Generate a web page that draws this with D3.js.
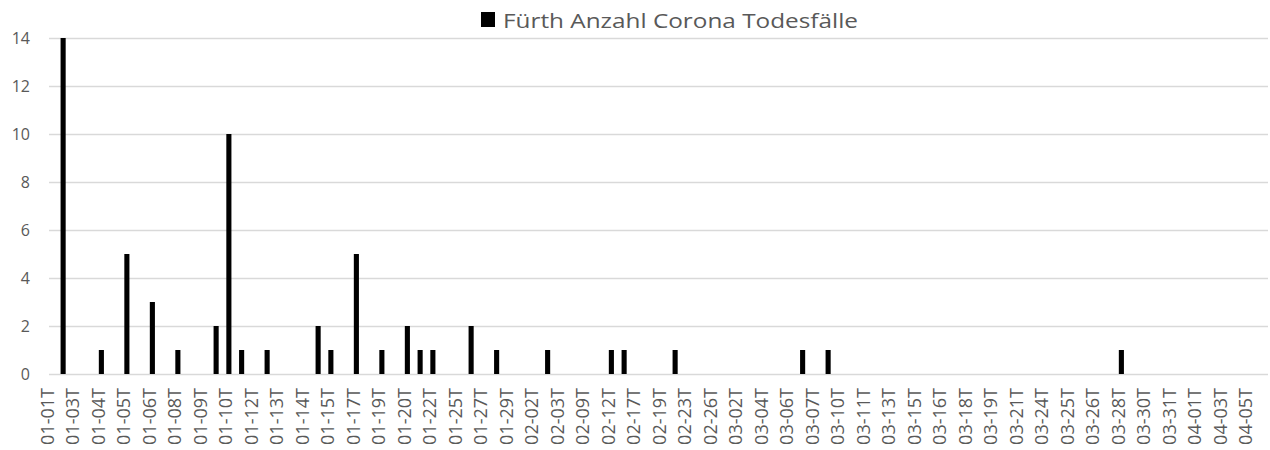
<!DOCTYPE html>
<html>
<head>
<meta charset="utf-8">
<script src="https://cdn.jsdelivr.net/npm/d3@7"></script>
<style>
  body { margin: 0; background: #fff; }
  svg text { font-family: "Open Sans", sans-serif; fill: #595959; }
</style>
</head>
<body>
<svg id="chart"></svg>
<script>
// tick labels, one for every second slot on the category axis
const tickLabels = [
    "01-01T", "01-03T", "01-04T", "01-05T", "01-06T", "01-08T", "01-09T", "01-10T",
    "01-12T", "01-13T", "01-14T", "01-15T", "01-17T", "01-19T", "01-20T", "01-22T",
    "01-25T", "01-27T", "01-29T", "02-02T", "02-03T", "02-09T", "02-12T", "02-17T",
    "02-19T", "02-23T", "02-26T", "03-02T", "03-04T", "03-06T", "03-07T", "03-10T",
    "03-11T", "03-13T", "03-15T", "03-16T", "03-18T", "03-19T", "03-21T", "03-24T",
    "03-25T", "03-26T", "03-28T", "03-30T", "03-31T", "04-01T", "04-03T", "04-05T"
];

// category slots that have deaths, and the number of deaths
const deathSlots  = [1, 4, 6, 8, 10, 13, 14, 15, 17, 21, 22, 24, 26, 28, 29, 30, 33, 35, 39, 44, 45, 49, 59, 61, 84];
const deathValues = [14, 1, 5, 3, 1, 2, 10, 1, 1, 2, 1, 5, 1, 2, 1, 1, 2, 1, 1, 1, 1, 1, 1, 1, 1];

const yTicks = [0, 2, 4, 6, 8, 10, 12, 14];
const seriesName = "Fürth Anzahl Corona Todesfälle";

const dims = {
    width: 1270, height: 450,
    left: 44, right: 1268, gridLeft: 49,
    top: 38, bottom: 374
};

let svg = d3.select("#chart")
    .attr("width", dims.width)
    .attr("height", dims.height);

let slots = d3.range(tickLabels.length * 2);

let xScale = d3.scaleBand()
    .domain(slots)
    .range([dims.left, dims.right])
    .paddingInner(0.6)
    .paddingOuter(0.3);

let yScale = d3.scaleLinear()
    .domain([0, 14])
    .range([dims.bottom, dims.top]);

// gridlines + y labels
let yAxis = d3.axisLeft(yScale)
    .tickValues(yTicks)
    .tickSize(-(dims.right - dims.gridLeft))
    .tickPadding(19);

svg.append("g")
    .attr("class", "y axis")
    .attr("transform", "translate(" + dims.gridLeft + ",0)")
    .call(yAxis)
    .call(g => g.select(".domain").remove())
    .call(g => g.selectAll("line").attr("stroke", "#d9d9d9").attr("stroke-width", 1.3))
    .call(g => g.selectAll("text").style("font-size", "16px"));

// x axis labels, rotated
let xAxis = d3.axisBottom(xScale)
    .tickValues(slots.filter(d => d % 2 === 0))
    .tickFormat(d => tickLabels[d / 2])
    .tickSize(0);

svg.append("g")
    .attr("class", "x axis")
    .attr("transform", "translate(0," + dims.bottom + ")")
    .call(xAxis)
    .call(g => g.select(".domain").remove())
    .call(g => g.selectAll("text")
        .style("font-size", "18px")
        .attr("text-anchor", "end")
        .attr("transform", "rotate(-90)")
        .attr("x", -14)
        .attr("y", 0)
        .attr("dy", "0.2em"));

// bars
let bars = deathSlots.map((s, i) => ({ slot: s, value: deathValues[i] }));

svg.append("g").selectAll(".bar")
    .data(bars)
    .enter().append("rect")
    .attr("class", "bar")
    .attr("fill", "#000")
    .attr("x", d => xScale(d.slot))
    .attr("y", d => yScale(d.value))
    .attr("width", xScale.bandwidth())
    .attr("height", d => yScale(0) - yScale(d.value));

// legend on top
let legend = svg.append("g")
    .attr("class", "legend")
    .attr("transform", "translate(481,12)");

legend.append("rect")
    .attr("width", 14).attr("height", 15)
    .attr("fill", "#000");

legend.append("text")
    .attr("x", 22)
    .attr("y", 15.5)
    .style("font-size", "20px")
    .attr("textLength", 355)
    .attr("lengthAdjust", "spacingAndGlyphs")
    .text(seriesName);
</script>
</body>
</html>
